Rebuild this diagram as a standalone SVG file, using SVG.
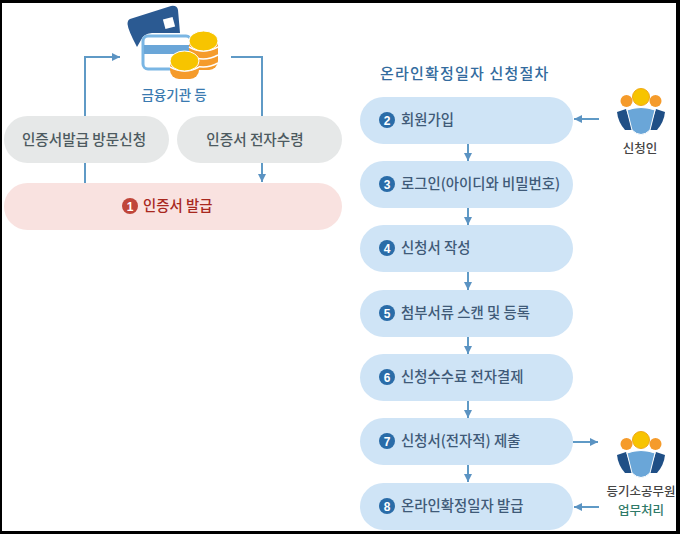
<svg xmlns="http://www.w3.org/2000/svg" width="680" height="534" viewBox="0 0 680 534">
<defs>
<style>
text{font-family:"Noto Sans CJK KR","Noto Sans",sans-serif;font-weight:500}
.lab{font-size:14.4px;fill:#3f5a78}
.gray{font-size:14.6px;fill:#4d5a60;text-anchor:middle}
.num{font-size:12px;font-weight:700;fill:#fff;text-anchor:middle;font-family:"Liberation Sans",sans-serif}
.blue{fill:#cfe4f6}
.dot{fill:#2a6ca8}
.line{fill:none;stroke:#5f9ac6;stroke-width:2}
</style>
<marker id="ah" markerUnits="userSpaceOnUse" markerWidth="10" markerHeight="10" refX="8" refY="4" orient="auto"><path d="M0 0L8 4L0 8Z" fill="#5b93c2"/></marker>
<g id="people">
<path d="M-24 15L-15 12L-8 33L-16 33Q-23 25-24 15Z" fill="#1f4f86"/>
<path d="M24 15L15 12L8 33L16 33Q23 25 24 15Z" fill="#1f4f86"/>
<path d="M-14 13Q0 8 14 13L9 33Q0 42-9 33Z" fill="#6aa6d8" stroke="#fff" stroke-width="1"/>
<circle cx="-14.500" cy="4" r="6" fill="#f59b2b"/>
<circle cx="14.500" cy="4" r="6" fill="#f59b2b"/>
<circle cx="0" cy="0" r="8.500" fill="#f7c400" stroke="#f0a818" stroke-width="1"/>
</g>
</defs>
<rect width="680" height="534" fill="#fff"/>
<path d="M0 0H680V534H0ZM2 3V531H676V3Z" fill="#000" fill-rule="evenodd"/>

<g id="connectors">
<path class="line" d="M85 116V57H120" marker-end="url(#ah)"/>
<path class="line" d="M85 163V183"/>
<path class="line" d="M231 57H262V116"/>
<path class="line" d="M262 163V182" marker-end="url(#ah)"/>
<path class="line" d="M468 144V161" marker-end="url(#ah)"/>
<path class="line" d="M468 208V225" marker-end="url(#ah)"/>
<path class="line" d="M468 272V290" marker-end="url(#ah)"/>
<path class="line" d="M468 337V354" marker-end="url(#ah)"/>
<path class="line" d="M468 401V418" marker-end="url(#ah)"/>
<path class="line" d="M468 465V482" marker-end="url(#ah)"/>
<path class="line" d="M599 119H574" marker-end="url(#ah)"/>
<path class="line" d="M573 442H598" marker-end="url(#ah)"/>
<path class="line" d="M599 507H574" marker-end="url(#ah)"/>
</g>

<g id="bank">
<path d="M130 19L171 6Q177 5 178 10L180 33H152Q143 34 141 40L137 47Q128 30 127.500 24Q127.500 20 130 19Z" fill="#2b5a92"/>
<rect x="164" y="18" width="10" height="10" fill="#fff" transform="rotate(-15 169 23)"/>
<rect x="143" y="36" width="48" height="33" rx="5" fill="#fff" stroke="#7ab6e4" stroke-width="3"/>
<rect x="144" y="45" width="46" height="9" fill="#6aa6d8"/>
<g id="coins2"><rect x="189" y="36" width="29" height="34" rx="9" fill="#f59b2b"/><path d="M189 47Q203 55 218 47M189 55Q203 63 218 55M189 63Q203 71 218 63" stroke="#fff" stroke-width="1.500" fill="none"/><ellipse cx="203.500" cy="41" rx="14.500" ry="10" fill="#f7c400" stroke="#fff"/></g>
<g id="coins1"><rect x="170" y="58" width="29" height="21" rx="9" fill="#f59b2b"/><path d="M170 67Q185 75 199 67" stroke="#fff" stroke-width="1.500" fill="none"/><ellipse cx="184.500" cy="61" rx="14.500" ry="10" fill="#f7c400" stroke="#fff"/></g>
<text x="174" y="100" font-size="13.500" fill="#3a7ab0" text-anchor="middle">금융기관 등</text>
</g>

<g id="visit"><rect x="4" y="116" width="165" height="47" rx="23.500" fill="#e6e8e8"/><text class="gray" x="84" y="145">인증서발급 방문신청</text></g>
<g id="receive"><rect x="177" y="116" width="165" height="47" rx="23.500" fill="#e6e8e8"/><text class="gray" x="255" y="145">인증서 전자수령</text></g>
<g id="issue"><rect x="4" y="183" width="338" height="47" rx="23.500" fill="#f9e2e0"/><circle cx="130" cy="206" r="8" fill="#c0463a"/><text class="num" x="130" y="210.500">1</text><text x="143" y="211" font-size="14.400" fill="#a8281e">인증서 발급</text></g>

<text id="title" x="380" y="79" font-size="15" letter-spacing="1.200" fill="#336b9e">온라인확정일자 신청절차</text>

<g id="s2"><rect class="blue" x="360" y="97" width="213" height="47" rx="23.500"/><circle class="dot" cx="387" cy="120" r="8"/><text class="num" x="387" y="124.500">2</text><text class="lab" x="401" y="125">회원가입</text></g>
<g id="s3"><rect class="blue" x="360" y="161" width="213" height="47" rx="23.500"/><circle class="dot" cx="387" cy="184" r="8"/><text class="num" x="387" y="188.500">3</text><text class="lab" x="401" y="189">로그인(아이디와 비밀번호)</text></g>
<g id="s4"><rect class="blue" x="360" y="225" width="213" height="47" rx="23.500"/><circle class="dot" cx="387" cy="248" r="8"/><text class="num" x="387" y="252.500">4</text><text class="lab" x="401" y="253">신청서 작성</text></g>
<g id="s5"><rect class="blue" x="360" y="290" width="213" height="47" rx="23.500"/><circle class="dot" cx="387" cy="313" r="8"/><text class="num" x="387" y="317.500">5</text><text class="lab" x="401" y="318">첨부서류 스캔 및 등록</text></g>
<g id="s6"><rect class="blue" x="360" y="354" width="213" height="47" rx="23.500"/><circle class="dot" cx="387" cy="377" r="8"/><text class="num" x="387" y="381.500">6</text><text class="lab" x="401" y="382">신청수수료 전자결제</text></g>
<g id="s7"><rect class="blue" x="360" y="418" width="213" height="47" rx="23.500"/><circle class="dot" cx="387" cy="441" r="8"/><text class="num" x="387" y="445.500">7</text><text class="lab" x="401" y="446">신청서(전자적) 제출</text></g>
<g id="s8"><rect class="blue" x="360" y="483" width="213" height="47" rx="23.500"/><circle class="dot" cx="387" cy="506" r="8"/><text class="num" x="387" y="510.500">8</text><text class="lab" x="401" y="511">온라인확정일자 발급</text></g>

<g id="applicant"><use href="#people" x="641" y="97"/><text x="640" y="153" font-size="12.500" fill="#444" text-anchor="middle">신청인</text></g>
<g id="officer"><use href="#people" x="641" y="440"/><text x="641" y="496" font-size="12.500" fill="#444" text-anchor="middle">등기소공무원</text><text x="641" y="515" font-size="12.500" fill="#2f7a68" text-anchor="middle">업무처리</text></g>
</svg>
